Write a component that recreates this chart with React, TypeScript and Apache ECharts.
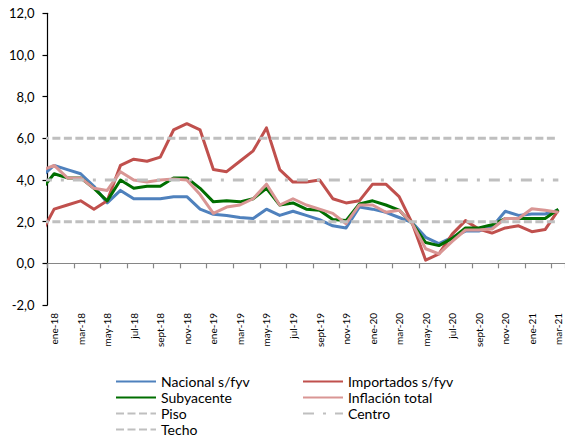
import React, { useEffect, useRef } from "react";
import * as echarts from "echarts";

// First entry (dic-17) only feeds the segment that is clipped at the left edge.
const months = [
  "dic-17",
  "ene-18", "feb-18", "mar-18", "abr-18", "may-18", "jun-18", "jul-18", "ago-18", "sept-18", "oct-18", "nov-18", "dic-18",
  "ene-19", "feb-19", "mar-19", "abr-19", "may-19", "jun-19", "jul-19", "ago-19", "sept-19", "oct-19", "nov-19", "dic-19",
  "ene-20", "feb-20", "mar-20", "abr-20", "may-20", "jun-20", "jul-20", "ago-20", "sept-20", "oct-20", "nov-20", "dic-20",
  "ene-21", "feb-21", "mar-21",
];

const nacional = [
  4.15,
  4.7, 4.5, 4.3, 3.7, 2.9, 3.5, 3.1, 3.1, 3.1, 3.2, 3.2, 2.6,
  2.35, 2.3, 2.2, 2.15, 2.6, 2.3, 2.5, 2.3, 2.1, 1.8, 1.7, 2.7,
  2.6, 2.45, 2.2, 1.95, 1.25, 0.95, 1.25, 1.55, 1.55, 1.75, 2.5, 2.3,
  2.37, 2.37, 2.55,
];

const importados = [
  1.4,
  2.6, 2.8, 3.0, 2.6, 3.0, 4.7, 5.0, 4.9, 5.1, 6.4, 6.7, 6.4,
  4.5, 4.4, 4.9, 5.4, 6.5, 4.5, 3.9, 3.9, 4.0, 3.1, 2.9, 3.0,
  3.8, 3.8, 3.2, 1.9, 0.15, 0.45, 1.4, 2.05, 1.65, 1.45, 1.7, 1.8,
  1.52, 1.62, 2.55,
];

const subyacente = [
  3.5,
  4.3, 4.1, 4.1, 3.6, 3.0, 4.0, 3.6, 3.7, 3.7, 4.1, 4.1, 3.6,
  2.95, 3.0, 2.95, 3.1, 3.6, 2.8, 2.9, 2.6, 2.55, 2.1, 2.05, 2.85,
  3.0, 2.8, 2.55, 1.9, 1.0, 0.85, 1.2, 1.7, 1.7, 1.85, 2.15, 2.15,
  2.15, 2.15, 2.6,
];

const inflacionTotal = [
  4.45,
  4.7, 4.1, 4.1, 3.6, 3.5, 4.4, 4.0, 3.9, 4.0, 4.05, 4.0, 3.3,
  2.4, 2.7, 2.8, 3.1, 3.8, 2.8, 3.1, 2.8, 2.6, 2.4, 1.9, 2.8,
  2.8, 2.45, 2.55, 1.9, 0.7, 0.45, 1.05, 1.6, 1.6, 1.65, 2.15, 2.15,
  2.62, 2.55, 2.45,
];

const pisoLevel = 2;
const centroLevel = 4;
const techoLevel = 6;

const yMin = -2;
const yMax = 12;
const yStep = 2;

// Legend layout: [name, column, row]
const legendItems: [string, number, number][] = [
  ["Nacional s/fyv", 0, 0],
  ["Importados s/fyv", 1, 0],
  ["Subyacente", 0, 1],
  ["Inflación total", 1, 1],
  ["Piso", 0, 2],
  ["Centro", 1, 2],
  ["Techo", 0, 3],
];

const FONT = "Lato, 'Open Sans', sans-serif";

export default function App() {
  const ref = useRef<HTMLDivElement>(null);

  useEffect(() => {
    const chart = echarts.init(ref.current as HTMLDivElement, null, { renderer: "svg" });
    const axisCats = months.slice(1);
    const toPts = (vals: number[]) => vals.map((v, i) => [i, v]);
    const flat = (level: number) => months.map((_, i) => [i, level]);

    const mainLine = (name: string, color: string, vals: number[]) => ({
      name,
      type: "line",
      xAxisIndex: 2,
      data: toPts(vals),
      symbol: "none",
      clip: true,
      lineStyle: { color, width: 3, join: "round", cap: "butt" },
      itemStyle: { color },
    });
    const refLine = (name: string, level: number, dash: number[]) => ({
      name,
      type: "line",
      xAxisIndex: 2,
      data: flat(level),
      symbol: "none",
      clip: true,
      lineStyle: { color: "#BFBFBF", width: 3, type: dash, cap: "butt" },
      itemStyle: { color: "#BFBFBF" },
    });

    const colLeft = [115, 302];
    const rowTops = [374, 390, 406, 422];

    chart.setOption({
      animation: false,
      backgroundColor: "#ffffff",
      textStyle: { fontFamily: FONT },
      grid: { left: 47.5, top: 13.3, width: 520.8, height: 291.7, containLabel: false },
      xAxis: [
        {
          type: "category",
          data: axisCats,
          boundaryGap: true,
          position: "bottom",
          axisLine: { show: true, onZero: true, lineStyle: { color: "#868686", width: 1.2 } },
          axisTick: { show: true, interval: 1, length: 5, inside: false, lineStyle: { color: "#868686", width: 1.2 } },
          axisLabel: { show: false },
          splitLine: { show: false },
        },
        {
          type: "category",
          data: axisCats,
          boundaryGap: true,
          position: "bottom",
          axisLine: { show: false, onZero: false },
          axisTick: { show: false },
          axisLabel: { show: true, interval: 1, rotate: 90, fontSize: 10, color: "#000", margin: 8, fontFamily: FONT },
          splitLine: { show: false },
        },
        {
          type: "value",
          show: false,
          min: 0.5,
          max: months.length - 0.5,
          axisLine: { onZero: false },
          splitLine: { show: false },
        },
      ],
      yAxis: {
        type: "value",
        min: yMin,
        max: yMax,
        interval: yStep,
        axisLine: { show: true, onZero: false, lineStyle: { color: "#000", width: 1.2 } },
        axisTick: { show: true, length: 5, inside: false, lineStyle: { color: "#000", width: 1.2 } },
        axisLabel: {
          fontSize: 13,
          color: "#000",
          margin: 13,
          fontFamily: FONT,
          formatter: (v: number) => v.toFixed(1).replace(".", ","),
        },
        splitLine: { show: false },
      },
      legend: legendItems.map(([name, col, row]) => ({
        data: [name],
        orient: "horizontal",
        left: colLeft[col],
        top: rowTops[row],
        itemWidth: 40,
        itemHeight: 15,
        padding: 0,
        selectedMode: false,
        itemStyle: { opacity: 0 },
        textStyle: { fontSize: 14, lineHeight: 15, color: "#000", fontFamily: FONT },
      })),
      series: [
        mainLine("Nacional s/fyv", "#4F81BD", nacional),
        mainLine("Importados s/fyv", "#C0504D", importados),
        mainLine("Subyacente", "#006E00", subyacente),
        mainLine("Inflación total", "#D99694", inflacionTotal),
        refLine("Piso", pisoLevel, [8, 3.5]),
        refLine("Centro", centroLevel, [11, 9, 3, 9]),
        refLine("Techo", techoLevel, [8, 3.5]),
      ],
    });

    return () => chart.dispose();
  }, []);

  return (
    <div
      ref={ref}
      style={{ position: "fixed", left: 0, top: 0, width: 565, height: 440, background: "#fff" }}
    />
  );
}
